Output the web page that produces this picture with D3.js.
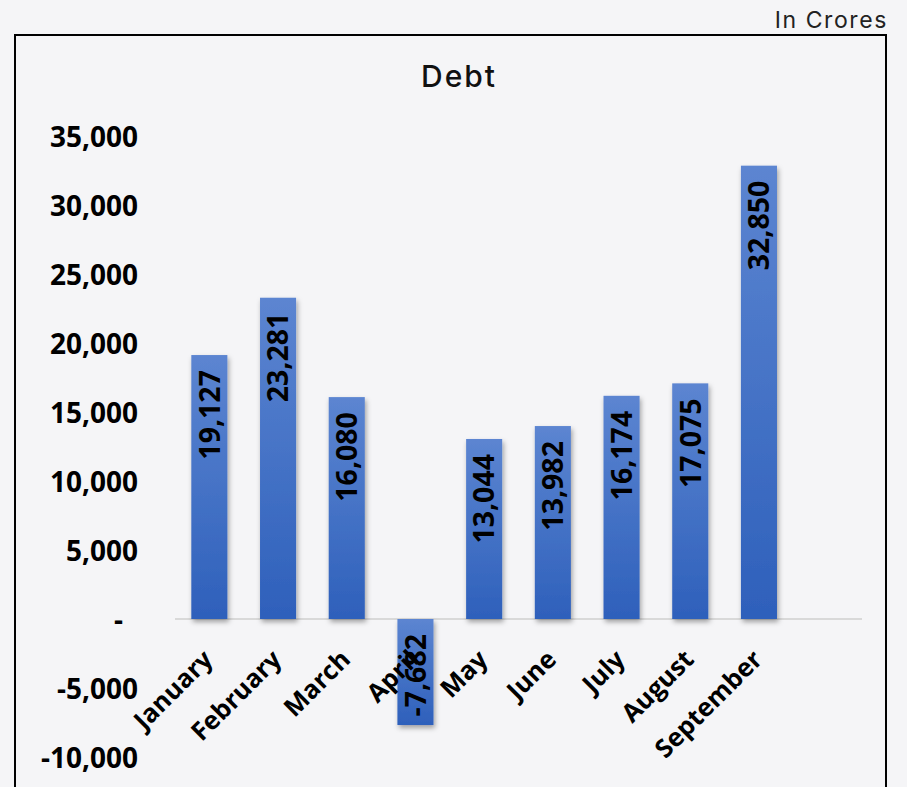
<!DOCTYPE html>
<html>
<head>
<meta charset="utf-8">
<script src="https://cdn.jsdelivr.net/npm/d3@7"></script>
<style>
  body { margin: 0; background: #f5f5f7; }
  svg { display: block; }
</style>
</head>
<body>
<div id="chart"></div>
<script>
// data
const months = ['January', 'February', 'March', 'April', 'May', 'June', 'July', 'August', 'September'];
const debt = [19127, 23281, 16080, -7682, 13044, 13982, 16174, 17075, 32850];
const yTicks = [-10000, -5000, 0, 5000, 10000, 15000, 20000, 25000, 30000, 35000];
const chartTitle = 'Debt';
const unitNote = 'In Crores';

const W = 907, H = 787;
const margin = {top: 136, left: 175, right: 45, bottom: 30};

// plain hyphen for negatives, like the sheet does
const fmt = d3.formatLocale({decimal: '.', thousands: ',', grouping: [3], currency: ['', ''], minus: '-'}).format(',');

const svg = d3.select('#chart').append('svg')
  .attr('width', W)
  .attr('height', H);

const defs = svg.append('defs');
const grad = defs.append('linearGradient')
  .attr('id', 'barGrad')
  .attr('x1', 0).attr('y1', 0).attr('x2', 0).attr('y2', 1);
grad.append('stop').attr('offset', '0%').attr('stop-color', '#5c85d1');
grad.append('stop').attr('offset', '100%').attr('stop-color', '#2e60bb');

const shadow = defs.append('filter')
  .attr('id', 'barShadow')
  .attr('x', '-30%').attr('y', '-10%').attr('width', '160%').attr('height', '130%');
shadow.append('feDropShadow')
  .attr('dx', 1.5).attr('dy', 3)
  .attr('stdDeviation', 2.5)
  .attr('flood-color', '#000')
  .attr('flood-opacity', 0.35);

// outer frame (bottom runs off the page)
svg.append('rect')
  .attr('x', 15).attr('y', 35)
  .attr('width', 871).attr('height', 800)
  .attr('fill', 'none')
  .attr('stroke', '#000')
  .attr('stroke-width', 2);

svg.append('text')
  .attr('x', 888).attr('y', 28)
  .attr('text-anchor', 'end')
  .attr('font-family', 'Inter, sans-serif')
  .attr('font-size', 23)
  .attr('letter-spacing', 1.6)
  .attr('fill', '#222')
  .text(unitNote);

svg.append('text')
  .attr('x', 459).attr('y', 87)
  .attr('text-anchor', 'middle')
  .attr('font-family', 'Inter, sans-serif')
  .attr('font-weight', 500)
  .attr('font-size', 30)
  .attr('letter-spacing', 2)
  .attr('fill', '#111')
  .text(chartTitle);

// scales
const y = d3.scaleLinear()
  .domain([-10000, 35000])
  .range([757, 136]);

const bandW = 68.7;
const x = d3.scaleBand()
  .domain(months)
  .range([margin.left, margin.left + bandW * months.length])
  .paddingInner(0.475)
  .paddingOuter(0.2375);

// y axis
const yAxis = d3.axisLeft(y)
  .tickValues(yTicks)
  .tickSize(0)
  .tickPadding(0)
  .tickFormat(d => d === 0 ? '-' : fmt(d));

const gy = svg.append('g')
  .attr('class', 'y axis')
  .attr('transform', 'translate(138,0)')
  .call(yAxis);
gy.select('.domain').remove();
gy.selectAll('text')
  .attr('font-family', '"Open Sans", sans-serif')
  .attr('font-weight', 700)
  .attr('font-size', 28)
  .attr('fill', '#000')
  .attr('dy', '0.36em')
  .attr('dx', d => d === 0 ? -15 : 0);

// zero line
svg.append('line')
  .attr('x1', margin.left).attr('x2', 862)
  .attr('y1', y(0)).attr('y2', y(0))
  .attr('stroke', '#d9d9d9')
  .attr('stroke-width', 2);

// bars
svg.append('g').selectAll('rect')
  .data(months)
  .enter().append('rect')
  .attr('x', d => x(d))
  .attr('width', x.bandwidth())
  .attr('y', (d, i) => y(Math.max(0, debt[i])))
  .attr('height', (d, i) => Math.abs(y(debt[i]) - y(0)))
  .attr('fill', 'url(#barGrad)')
  .attr('filter', 'url(#barShadow)');

// x labels
svg.append('g').selectAll('text')
  .data(months)
  .enter().append('text')
  .attr('transform', d => 'translate(' + (x(d) + x.bandwidth() / 2 + 5) + ',' + (y(0) + 42) + ') rotate(-45)')
  .attr('text-anchor', 'end')
  .attr('font-family', '"Open Sans", sans-serif')
  .attr('font-weight', 700)
  .attr('font-size', 25.5)
  .attr('fill', '#000')
  .text(d => d);

// value labels inside bars
svg.append('g').selectAll('text')
  .data(months)
  .enter().append('text')
  .attr('transform', (d, i) => 'translate(' + (x(d) + x.bandwidth() / 2) + ',' + (Math.min(y(debt[i]), y(0)) + 15) + ') rotate(-90)')
  .attr('text-anchor', 'end')
  .attr('dy', '0.36em')
  .attr('font-family', '"Open Sans", sans-serif')
  .attr('font-weight', 700)
  .attr('font-size', 28.5)
  .attr('fill', '#000')
  .text((d, i) => fmt(debt[i]));
</script>
</body>
</html>
